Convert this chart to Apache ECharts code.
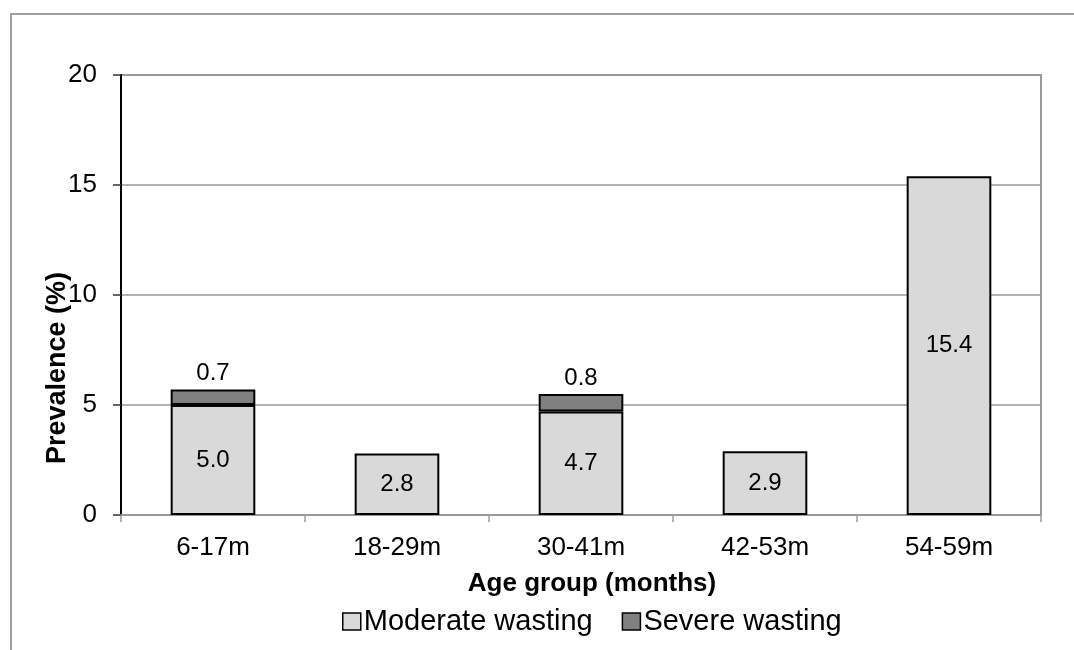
<!DOCTYPE html>
<html>
<head>
<meta charset="utf-8">
<title>Wasting prevalence by age group</title>
<script src="https://cdn.jsdelivr.net/npm/echarts@6/dist/echarts.min.js"></script>
<style>
  html, body { margin: 0; padding: 0; background: #fff; }
  #chart { width: 1074px; height: 650px; }
</style>
</head>
<body>
<div id="chart"></div>
<script>
// Age groups on the x axis
const categories = ['6-17m', '18-29m', '30-41m', '42-53m', '54-59m'];
// Prevalence (%) per age group, stacked
const moderateWasting = [5.0, 2.8, 4.7, 2.9, 15.4];
const severeWasting = [0.7, null, 0.8, null, null];
// Value axis ticks
const yTicks = [0, 5, 10, 15, 20];
// Axis titles
const xTitle = 'Age group (months)';
const yTitle = 'Prevalence (%)';

const FONT = "'Liberation Sans', Arial, sans-serif";

const chart = echarts.init(document.getElementById('chart'), null, { renderer: 'canvas' });

chart.setOption({
  backgroundColor: '#ffffff',
  animation: false,
  textStyle: { fontFamily: FONT, color: '#000' },
  graphic: [
    {
      // outer chart-area frame
      type: 'rect',
      shape: { x: 11, y: 14, width: 1200, height: 800 },
      style: { fill: 'none', stroke: '#a0a0a0', lineWidth: 2 },
      silent: true,
      z: -1
    },
    {
      // value-axis title, reading bottom to top
      type: 'text',
      x: 58, y: 368,
      rotation: Math.PI / 2,
      silent: true,
      style: {
        text: yTitle,
        fill: '#000',
        font: "bold 27px 'Liberation Sans', Arial, sans-serif",
        textAlign: 'center',
        textVerticalAlign: 'middle'
      }
    }
  ],
  grid: {
    left: 121, right: 33, top: 75, bottom: 135,
    show: true, borderColor: '#9a9a9a', borderWidth: 2, backgroundColor: 'transparent'
  },
  legend: {
    left: 342, top: 607,
    padding: 0,
    itemWidth: 18, itemHeight: 17, itemGap: 29,
    icon: 'rect',
    textStyle: { fontSize: 29, fontFamily: FONT, color: '#000', padding: [0, 0, 0, -2] },
    data: [
      { name: 'Moderate wasting', itemStyle: { color: '#d9d9d9', borderColor: '#000', borderWidth: 1.5 } },
      { name: 'Severe wasting', itemStyle: { color: '#808080', borderColor: '#000', borderWidth: 1.5 } }
    ]
  },
  xAxis: {
    type: 'category',
    data: categories,
    name: xTitle,
    nameLocation: 'middle',
    nameGap: 56,
    nameTextStyle: { fontSize: 26, fontWeight: 'bold', fontFamily: FONT, color: '#000', padding: [0, 0, 0, 22] },
    axisLine: { lineStyle: { color: '#9a9a9a', width: 2 } },
    axisTick: { show: true, length: 7, lineStyle: { color: '#9a9a9a', width: 1.5 } },
    axisLabel: { fontSize: 26, fontFamily: FONT, color: '#000', margin: 20 }
  },
  yAxis: {
    type: 'value',
    min: 0, max: 20, interval: 5,
    axisLine: { show: true, lineStyle: { color: '#000', width: 2 } },
    axisTick: { show: true, length: 8, lineStyle: { color: '#333', width: 1.5 } },
    splitLine: { show: true, lineStyle: { color: '#9a9a9a', width: 1.5 } },
    axisLabel: {
      fontSize: 26, fontFamily: FONT, color: '#000', margin: 24,
      formatter: v => (yTicks.includes(v) ? String(v) : '')
    }
  },
  series: [
    {
      name: 'Moderate wasting',
      type: 'bar',
      stack: 'wasting',
      barWidth: '46%',
      data: moderateWasting,
      itemStyle: { color: '#d9d9d9', borderColor: '#000', borderWidth: 2 },
      label: {
        show: true, position: 'inside', fontSize: 24, fontFamily: FONT, color: '#000',
        formatter: p => p.value.toFixed(1)
      }
    },
    {
      name: 'Severe wasting',
      type: 'bar',
      stack: 'wasting',
      barWidth: '46%',
      data: severeWasting,
      itemStyle: { color: '#808080', borderColor: '#000', borderWidth: 2 },
      label: {
        show: true, position: 'top', distance: 4, fontSize: 24, fontFamily: FONT, color: '#000',
        formatter: p => (p.value == null ? '' : p.value.toFixed(1))
      }
    }
  ]
});
</script>
</body>
</html>
